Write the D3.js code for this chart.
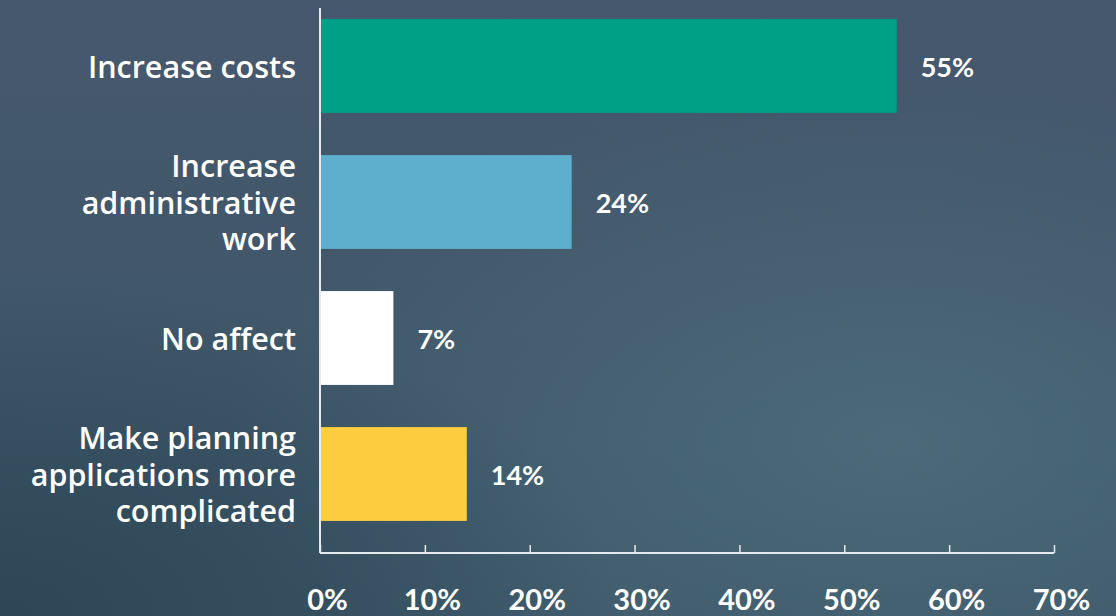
<!DOCTYPE html>
<html>
<head>
<meta charset="utf-8">
<script src="https://cdn.jsdelivr.net/npm/d3@7"></script>
<style>
  html, body { margin: 0; padding: 0; background: #44566b; }
  svg { display: block; }
  text { font-family: "Lato", "Open Sans", sans-serif; fill: #ffffff; }
</style>
</head>
<body>
<svg id="chart" width="1116" height="616"></svg>
<script>
// Survey responses: expected effect of the change
const categories = [
  ["Increase costs"],
  ["Increase", "administrative", "work"],
  ["No affect"],
  ["Make planning", "applications more", "complicated"]
];
const values = [55, 24, 7, 14];
const barColors = ["#00a086", "#5eaecd", "#ffffff", "#fdcd3f"];
const tickValues = [0, 10, 20, 30, 40, 50, 60, 70];

const W = 1116, H = 616;
const svg = d3.select("#chart");
const defs = svg.append("defs");

// Background: slate blue fading to teal, darker toward the lower left
const lin = defs.append("linearGradient").attr("id", "bgLin")
  .attr("x1", 0).attr("y1", 0).attr("x2", 0).attr("y2", 1);
lin.append("stop").attr("offset", "0%").attr("stop-color", "#46586d");
lin.append("stop").attr("offset", "100%").attr("stop-color", "#3c5667");

const glow = defs.append("radialGradient").attr("id", "bgGlow")
  .attr("cx", 0.8).attr("cy", 0.72).attr("r", 0.6);
glow.append("stop").attr("offset", "0%").attr("stop-color", "#4e6e7e").attr("stop-opacity", 0.8);
glow.append("stop").attr("offset", "100%").attr("stop-color", "#4e6e7e").attr("stop-opacity", 0);

const shade = defs.append("radialGradient").attr("id", "bgShade")
  .attr("cx", 0.0).attr("cy", 1.0).attr("r", 0.55);
shade.append("stop").attr("offset", "0%").attr("stop-color", "#2b4554").attr("stop-opacity", 0.9);
shade.append("stop").attr("offset", "100%").attr("stop-color", "#2b4554").attr("stop-opacity", 0);

svg.append("rect").attr("width", W).attr("height", H).attr("fill", "url(#bgLin)");
svg.append("rect").attr("width", W).attr("height", H).attr("fill", "url(#bgGlow)");
svg.append("rect").attr("width", W).attr("height", H).attr("fill", "url(#bgShade)");

// Scales
const x = d3.scaleLinear().domain([0, 70]).range([320, 1054]);
const y = d3.scaleBand()
  .domain(d3.range(categories.length))
  .range([-2, 542])
  .paddingInner(0.31)
  .paddingOuter(0.155);

const axisColor = "#e6e9ee";

// Bars
svg.append("g").selectAll("rect")
  .data(values)
  .join("rect")
  .attr("x", x(0))
  .attr("y", (d, i) => y(i))
  .attr("width", d => x(d) - x(0))
  .attr("height", y.bandwidth())
  .attr("fill", (d, i) => barColors[i]);

// Vertical axis line
svg.append("line")
  .attr("x1", x(0)).attr("x2", x(0))
  .attr("y1", 8).attr("y2", 553)
  .attr("stroke", axisColor).attr("stroke-width", 2);

// Horizontal axis with short upward ticks
const xAxis = d3.axisBottom(x)
  .tickValues(tickValues)
  .tickSize(-8)
  .tickFormat(d => d + "%");

const gx = svg.append("g")
  .attr("transform", "translate(0,553)")
  .call(xAxis);
gx.select(".domain").attr("stroke", axisColor).attr("stroke-width", 2)
  .attr("d", `M${x(0)},0H${x(70)}`);
gx.selectAll(".tick line").attr("stroke", axisColor).attr("stroke-width", 1.5);
gx.selectAll(".tick text")
  .attr("y", 0)
  .attr("dy", "1.95em")
  .attr("dx", 7)
  .style("font-size", "29px")
  .style("font-weight", 700)
  .attr("fill", "#ffffff");

// Category labels, right-aligned beside the axis
const lineH = 36.5;
const labels = svg.append("g").selectAll("text")
  .data(categories)
  .join("text")
  .attr("text-anchor", "end")
  .style("font-family", "'Open Sans', sans-serif")
  .style("font-size", "30.5px")
  .style("font-weight", 600)
  .attr("transform", (d, i) => {
    const cy = y(i) + y.bandwidth() / 2 + 1;
    return `translate(296,${cy - (d.length - 1) * lineH / 2})`;
  });
labels.selectAll("tspan")
  .data(d => d)
  .join("tspan")
  .attr("x", 0)
  .attr("y", (d, j) => j * lineH)
  .attr("dy", "0.36em")
  .text(d => d);

// Value labels at the bar ends
svg.append("g").selectAll("text")
  .data(values)
  .join("text")
  .attr("x", d => x(d) + 24)
  .attr("y", (d, i) => y(i) + y.bandwidth() / 2 + 1)
  .attr("dy", "0.36em")
  .style("font-size", "27px")
  .style("font-weight", 700)
  .text(d => d + "%");
</script>
</body>
</html>
